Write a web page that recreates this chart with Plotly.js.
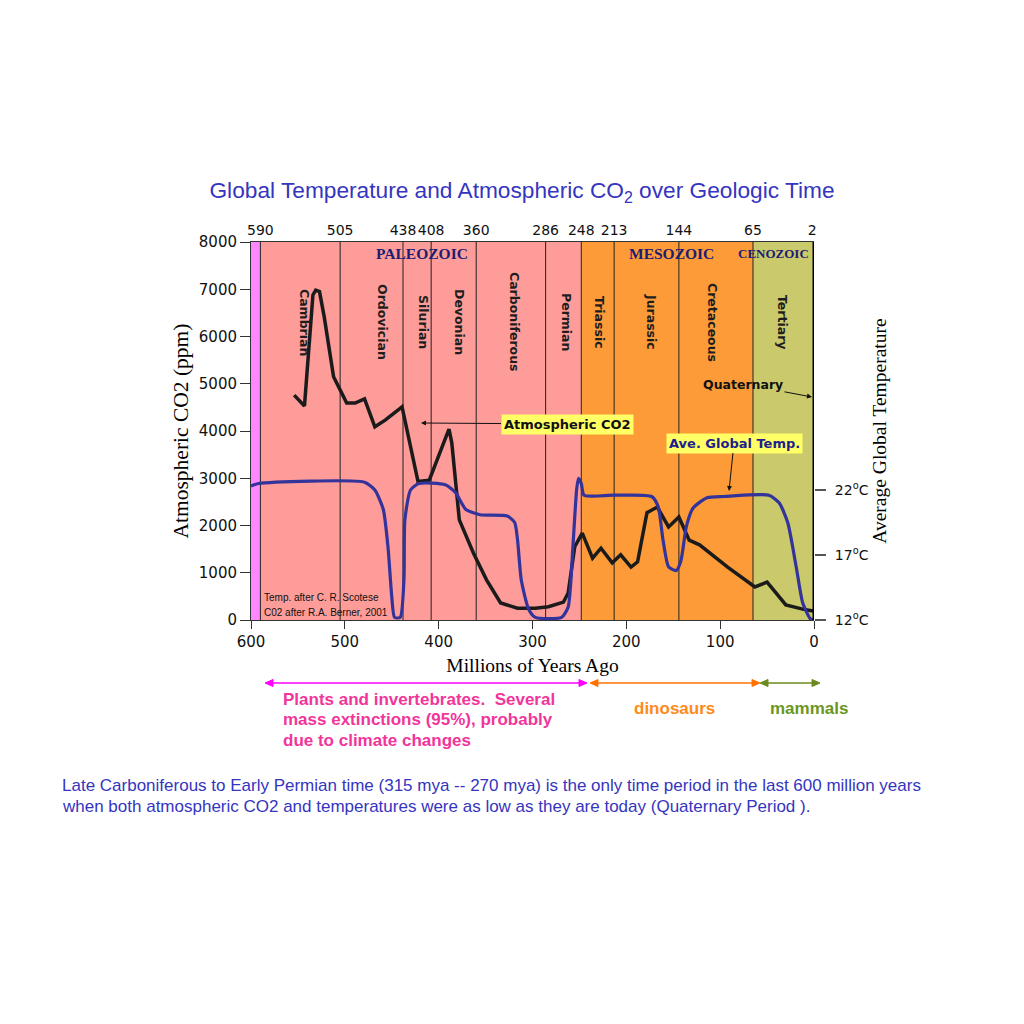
<!DOCTYPE html>
<html>
<head>
<meta charset="utf-8">
<script src="https://cdn.plot.ly/plotly-3.0.1.min.js"></script>
<style>html,body{margin:0;padding:0;background:#fff;}#chart{width:1024px;height:1024px;}</style>
</head>
<body>
<div id="chart"></div>
<script>
// ---------- data ----------
const co2Age = [554, 543, 534, 531, 527, 522, 512, 498, 489, 479, 468, 457, 439, 422, 410, 389, 386, 378, 363, 349, 334, 316, 297, 283, 267, 262, 255, 247, 236, 227, 215, 206, 195, 188, 178, 167, 155, 144, 133, 122, 92, 63, 50, 30, 12, 1];
const co2Ppm = [4760, 4530, 6880, 6980, 6950, 6420, 5150, 4590, 4590, 4680, 4090, 4230, 4510, 2930, 2960, 4040, 3750, 2120, 1420, 850, 360, 250, 250, 280, 380, 570, 1550, 1840, 1310, 1520, 1210, 1380, 1120, 1230, 2270, 2390, 1970, 2180, 1690, 1590, 1120, 700, 800, 320, 230, 190];

const tempAge = [600, 592, 479, 468, 459, 454, 450, 447, 441, 437, 436, 430, 421, 393, 382, 371, 356, 327, 319, 316, 312, 304, 297, 269, 262, 257, 253, 251, 248, 245, 213, 173, 166, 161, 155, 147, 142, 136, 129, 114, 96, 48, 37, 28, 19, 12, 4, 1];
const tempC = [22.3, 22.5, 22.6, 22.0, 20.5, 17.6, 13.8, 12.2, 12.2, 15.1, 19.7, 22.0, 22.5, 22.4, 21.8, 20.5, 20.1, 20.0, 19.5, 18.2, 15.1, 12.8, 12.2, 12.2, 13.0, 17.6, 22.0, 22.9, 22.5, 21.6, 21.6, 21.5, 20.7, 18.2, 16.1, 15.8, 16.5, 19.2, 20.6, 21.4, 21.5, 21.6, 21.0, 19.5, 16.1, 13.3, 12.1, 12.0];

const boundaries = [590, 505, 438, 408, 360, 286, 248, 213, 144, 65, 2];
const boundaryLabels = ['590', '505', '438', '408', '360', '286', '248', '213', '144', '65', '2'];
const periods = ['Cambrian', 'Ordovician', 'Silurian', 'Devonian', 'Carboniferous', 'Permian', 'Triassic', 'Jurassic', 'Cretaceous', 'Tertiary'];
const eras = ['PALEOZOIC', 'MESOZOIC', 'CENOZOIC'];
const xTicks = [600, 500, 400, 300, 200, 100, 0];
const yTicks = [0, 1000, 2000, 3000, 4000, 5000, 6000, 7000, 8000];
const tempTicks = [12, 17, 22];
const tempTickLabels = ['12<sup>o</sup>C', '17<sup>o</sup>C', '22<sup>o</sup>C'];
const lifeNote = ['Plants and invertebrates.  Several', 'mass extinctions (95%), probably', 'due to climate changes'];
const footNote = ['Late Carboniferous to Early Permian time (315 mya -- 270 mya) is the only time period in the last 600 million years',
                  'when both atmospheric CO2 and temperatures were as low as they are today (Quaternary Period ).'];

// ---------- layout helpers (pixel -> paper) ----------
const L = 251, R = 814, T = 242, B = 620;
const X = px => (px - L) / (R - L);
const Y = py => (B - py) / (B - T);

const bands = [
  {x0: 600, x1: 590, color: '#ff88ff'},
  {x0: 590, x1: 248, color: '#fd9c98'},
  {x0: 248, x1: 65, color: '#fd9b38'},
  {x0: 65, x1: 0, color: '#cac96b'}
];
const periodPx = [305, 383, 424, 460, 515, 567, 600, 652, 713, 783];
const eraPos = [{x: 422, size: 15.5}, {x: 671, size: 15.5}, {x: 773, size: 13}];

const shapes = [];
bands.forEach(b => shapes.push({type: 'rect', xref: 'x', yref: 'paper', x0: b.x0, x1: b.x1, y0: 0, y1: 1, fillcolor: b.color, line: {width: 0}, layer: 'below'}));
boundaries.slice(0, 10).forEach(v => shapes.push({type: 'line', xref: 'x', yref: 'paper', x0: v, x1: v, y0: 0, y1: 1, line: {color: '#222', width: 1}, layer: 'below'}));
shapes.push({type: 'line', xref: 'x', yref: 'paper', x0: 0, x1: 0, y0: 0, y1: 1, line: {color: '#000', width: 3}});

// lifeform ranges below the axis (double-headed arrows drawn as shapes)
const rangeArrows = [
  {from: 265, to: 587, color: '#ff00ff'},
  {from: 590, to: 760, color: '#ff7200'},
  {from: 760, to: 820, color: '#6b8a1e'}
];
const ay = 683, hl = 8, hw = 3.5;
rangeArrows.forEach(a => {
  shapes.push({type: 'line', xref: 'paper', yref: 'paper', x0: X(a.from + 3), x1: X(a.to - 3), y0: Y(ay), y1: Y(ay),
               line: {color: a.color, width: 1.5}});
  const tri = (tip, dir) => 'M' + X(tip) + ',' + Y(ay) + ' L' + X(tip + dir * hl) + ',' + Y(ay - hw) +
                            ' L' + X(tip + dir * hl) + ',' + Y(ay + hw) + ' Z';
  shapes.push({type: 'path', xref: 'paper', yref: 'paper', path: tri(a.from, 1), fillcolor: a.color, line: {color: a.color, width: 1}});
  shapes.push({type: 'path', xref: 'paper', yref: 'paper', path: tri(a.to, -1), fillcolor: a.color, line: {color: a.color, width: 1}});
});

const annotations = [];
const txt = (text, px, py, font, extra) => Object.assign({
  text: text, xref: 'paper', yref: 'paper', x: X(px), y: Y(py), xanchor: 'center', yanchor: 'middle',
  showarrow: false, font: font
}, extra || {});

periods.forEach((p, i) => annotations.push(txt(p, periodPx[i], 322,
  {family: 'DejaVu Sans', size: 12.5, color: '#1e1e1e', weight: 'bold'}, {textangle: 90})));
eras.forEach((e, i) => annotations.push(txt('<b>' + e + '</b>', eraPos[i].x, 253,
  {family: 'Liberation Serif', size: eraPos[i].size, color: '#1c1c72'})));

// labels with arrows in the plot
annotations.push(txt('<b>Atmospheric CO2</b>', 421, 423, {family: 'DejaVu Sans', size: 13, color: '#111'}, {
  ax: 146, ay: 1, showarrow: true, arrowhead: 2, arrowsize: 1, arrowwidth: 1, arrowcolor: '#111',
  bgcolor: '#ffff66', borderpad: 2}));
annotations.push(txt('<b>Ave. Global Temp.</b>', 729, 491, {family: 'DejaVu Sans', size: 13, color: '#1e1e8c'}, {
  ax: 5, ay: -48, showarrow: true, arrowhead: 2, arrowsize: 1, arrowwidth: 1, arrowcolor: '#111',
  bgcolor: '#ffff66', borderpad: 2}));
annotations.push(txt('<b>Quaternary</b>', 812, 397, {family: 'DejaVu Sans', size: 12.5, color: '#111'}, {
  ax: -69, ay: -13, showarrow: true, arrowhead: 2, arrowsize: 1, arrowwidth: 1, arrowcolor: '#111'}));
annotations.push(txt('Temp. after C. R. Scotese', 262, 597, {family: 'Liberation Sans', size: 10, color: '#111'}, {xanchor: 'left'}));
annotations.push(txt('C02 after R.A. Berner, 2001', 262, 612, {family: 'Liberation Sans', size: 10, color: '#111'}, {xanchor: 'left'}));

lifeNote.forEach((line, i) => annotations.push(txt('<b>' + line + '</b>', 281, 699 + i * 20.5,
  {family: 'Liberation Sans', size: 17, color: '#f2359b'}, {xanchor: 'left'})));
annotations.push(txt('<b>dinosaurs</b>', 674, 708, {family: 'Liberation Sans', size: 17, color: '#ff8a1a'}));
annotations.push(txt('<b>mammals</b>', 809, 708, {family: 'Liberation Sans', size: 17, color: '#6b961c'}));
footNote.forEach((line, i) => annotations.push(txt(line, 60, 785 + i * 21,
  {family: 'Liberation Sans', size: 17, color: '#3535c0'}, {xanchor: 'left'})));

const traces = [
  {x: tempAge, y: tempC, xaxis: 'x2', yaxis: 'y2', type: 'scatter', mode: 'lines', name: 'Ave. Global Temp.',
   line: {color: '#33339c', width: 3.2, shape: 'spline', smoothing: 0.6}, hoverinfo: 'skip'},
  {x: co2Age, y: co2Ppm, type: 'scatter', mode: 'lines', name: 'Atmospheric CO2',
   line: {color: '#1b1b1b', width: 3.5}, hoverinfo: 'skip'}
];

const tickFont = {family: 'DejaVu Sans', size: 15, color: '#111'};
const layout = {
  width: 1024, height: 1024, autosize: false,
  paper_bgcolor: '#ffffff', plot_bgcolor: 'rgba(0,0,0,0)',
  margin: {l: L, r: 1024 - R, t: T, b: 1024 - B, pad: 0},
  showlegend: false,
  title: {
    text: 'Global Temperature and Atmospheric CO<sub>2</sub> over Geologic Time',
    font: {family: 'Liberation Sans', size: 22.7, color: '#3535c0'},
    xref: 'container', yref: 'container', x: 522 / 1024, xanchor: 'center', y: 1 - 190 / 1024, yanchor: 'middle'
  },
  xaxis: {
    range: [600, 0], tickvals: xTicks, ticks: 'outside', ticklen: 8, tickwidth: 1, tickcolor: '#333',
    showline: true, linecolor: '#333', linewidth: 1, showgrid: false, zeroline: false, tickfont: tickFont, tickangle: 0,
    title: {text: 'Millions of Years Ago', font: {family: 'Liberation Serif', size: 19.5, color: '#000'}, standoff: 8}
  },
  xaxis2: {
    range: [600, 0], overlaying: 'x', side: 'top', anchor: 'y2', tickvals: boundaries, ticktext: boundaryLabels,
    ticks: '', showline: true, linecolor: '#333', linewidth: 1, showgrid: false, zeroline: false,
    tickfont: {family: 'DejaVu Sans', size: 14, color: '#111'}, tickangle: 0, ticklabelstandoff: 0
  },
  yaxis: {
    range: [0, 8000], tickvals: yTicks, ticks: 'outside', ticklen: 10, tickwidth: 1, tickcolor: '#333',
    showline: true, linecolor: '#333', linewidth: 1, showgrid: false, zeroline: false, tickfont: tickFont,
    title: {text: 'Atmospheric CO2 (ppm)', font: {family: 'Liberation Serif', size: 21.5, color: '#000'}, standoff: 4}
  },
  yaxis2: {
    range: [12, 41.08], overlaying: 'y', side: 'right', anchor: 'x2', tickvals: tempTicks, ticktext: tempTickLabels,
    ticks: 'outside', ticklen: 11, tickwidth: 1.5, tickcolor: '#555', showline: false, showgrid: false, zeroline: false,
    tickfont: {family: 'DejaVu Sans', size: 14, color: '#111'}, ticklabelstandoff: 6,
    title: {text: 'Average Global Temperature', font: {family: 'Liberation Serif', size: 19.5, color: '#000'}, standoff: 4}
  },
  shapes: shapes,
  annotations: annotations
};

Plotly.newPlot('chart', traces, layout, {staticPlot: true, displayModeBar: false});
</script>
</body>
</html>
